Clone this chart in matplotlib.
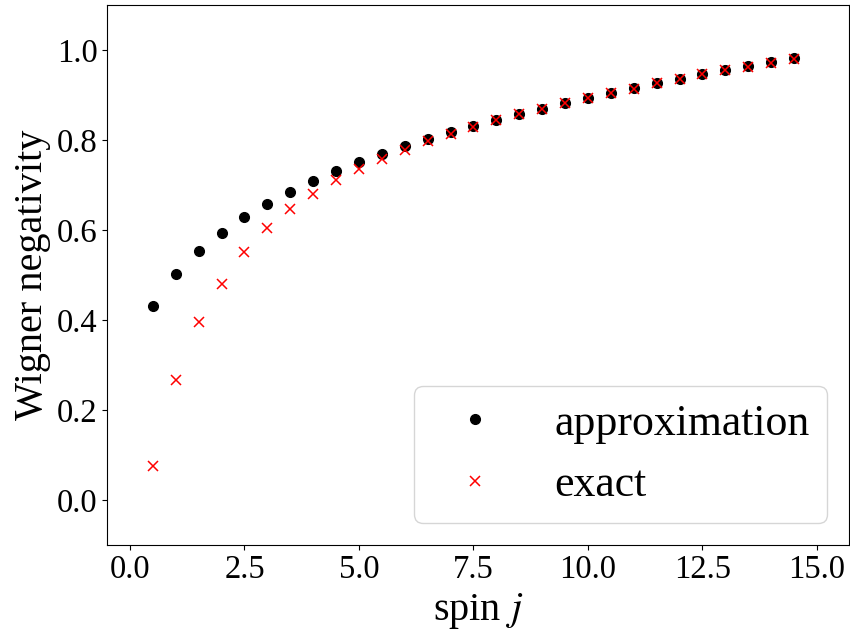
import numpy as np
import matplotlib
matplotlib.use("Agg")
import matplotlib.pyplot as plt

spin = [0.5, 1.0, 1.5, 2.0, 2.5, 3.0, 3.5, 4.0, 4.5, 5.0, 5.5, 6.0, 6.5, 7.0, 7.5,
        8.0, 8.5, 9.0, 9.5, 10.0, 10.5, 11.0, 11.5, 12.0, 12.5, 13.0, 13.5, 14.0, 14.5]
approximation = [0.432, 0.502, 0.553, 0.594, 0.630, 0.658, 0.684, 0.709, 0.731, 0.751,
                 0.770, 0.786, 0.802, 0.817, 0.831, 0.845, 0.858, 0.870, 0.883, 0.894,
                 0.905, 0.915, 0.927, 0.936, 0.947, 0.956, 0.964, 0.973, 0.982]
exact = [0.075, 0.267, 0.395, 0.481, 0.552, 0.604, 0.647, 0.681, 0.712, 0.736,
         0.758, 0.778, 0.797, 0.813, 0.829, 0.844, 0.857, 0.869, 0.882, 0.893,
         0.904, 0.914, 0.926, 0.935, 0.946, 0.955, 0.963, 0.972, 0.981]

plt.rcParams['font.family'] = 'serif'
plt.rcParams['font.serif'] = ['Liberation Serif', 'DejaVu Serif']
plt.rcParams['mathtext.fontset'] = 'stix'

fig = plt.figure(figsize=(8.5, 6.31), dpi=100)
ax = fig.add_axes([0.126, 0.1363, 0.8728, 0.8557])
ax.plot(spin, approximation, 'o', color='black', ms=7, label='approximation')
ax.plot(spin, exact, 'x', color='red', ms=6.5, mew=1.1, label='exact')
ax.set_xlim(-0.5, 15.7)
ax.set_ylim(-0.1, 1.1)
ax.set_xticks([0.0, 2.5, 5.0, 7.5, 10.0, 12.5, 15.0])
ax.set_yticks([0.0, 0.2, 0.4, 0.6, 0.8, 1.0])
ax.tick_params(labelsize=23.5)
ax.set_xlabel('spin $j$', fontsize=29)
ax.set_ylabel('Wigner negativity', fontsize=29)
ax.legend(loc='lower right', fontsize=31.6)
fig.savefig('out.png', dpi=100)
